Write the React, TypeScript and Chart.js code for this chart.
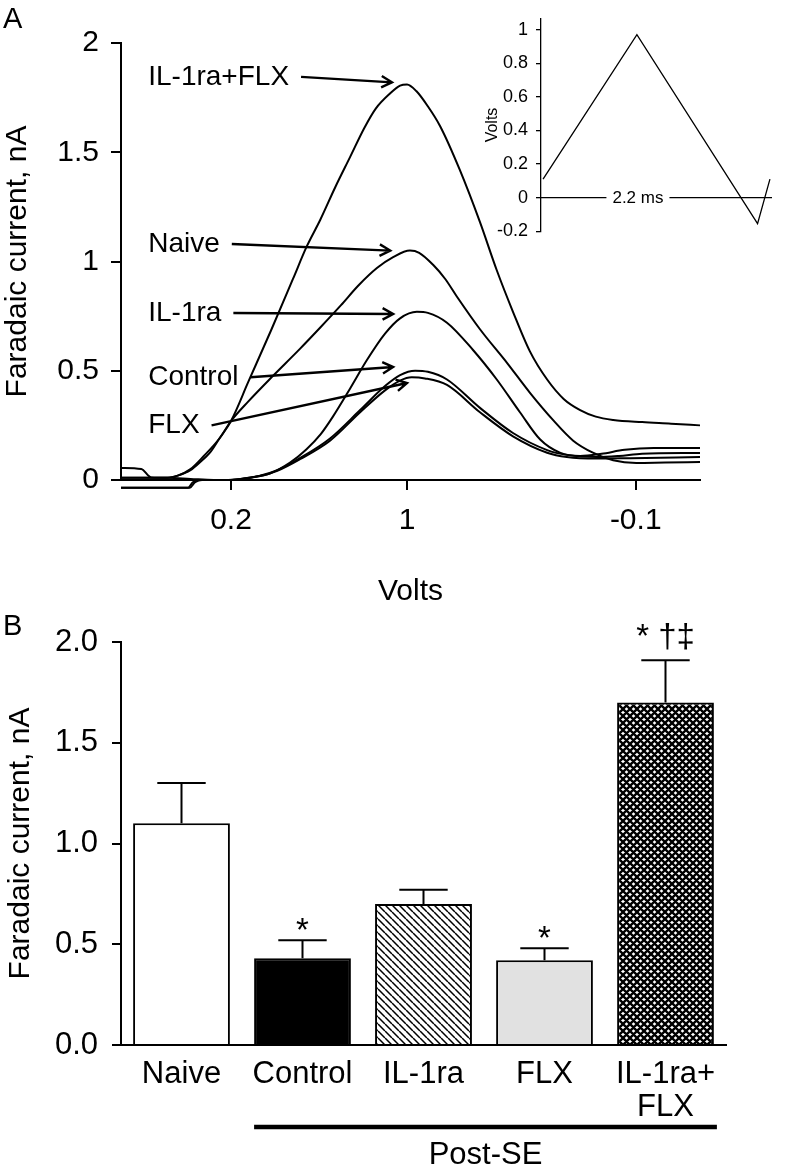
import React, { useEffect, useRef } from 'react';
import { Chart, registerables } from 'chart.js';

Chart.register(...registerables);

const FONT = '"Liberation Sans", Arial, Helvetica, sans-serif';

// ---------- Panel A: cyclic voltammogram traces [sample index 0-100, current nA]
const traceIL1raFLX: [number, number][] = [
  [0, 0.055], [3.5, 0.05], [5.2, 0.012], [8, 0.01], [9.8, 0.02], [12, 0.045], [13.6, 0.08],
  [15.5, 0.13], [17, 0.19], [19, 0.27], [22, 0.45], [26, 0.69], [29.7, 0.92], [32.1, 1.07],
  [34.4, 1.19], [37, 1.34], [39.6, 1.48], [42, 1.61], [44, 1.7], [46.5, 1.77], [48.2, 1.805],
  [49.4, 1.81], [51, 1.78], [53, 1.71], [55.1, 1.62], [58.5, 1.42], [62, 1.18], [64.9, 0.96],
  [67.7, 0.77], [70.6, 0.59], [73.6, 0.46], [76.5, 0.37], [79.3, 0.32], [82, 0.29], [85, 0.275],
  [90, 0.265], [95, 0.258], [100, 0.25],
];
const traceNaive: [number, number][] = [
  [0, 0.01], [5, 0.01], [8, 0.01], [9.8, 0.02], [12, 0.05], [14.3, 0.11], [17, 0.19], [19, 0.27],
  [22, 0.36], [26, 0.47], [30.9, 0.6], [34.5, 0.7], [38, 0.8], [41, 0.89], [44.2, 0.97], [47, 1.02],
  [49.9, 1.05], [51.5, 1.04], [53.9, 0.985], [56, 0.92], [58, 0.84], [62, 0.69], [66.7, 0.535],
  [70.6, 0.4], [74.6, 0.275], [78.1, 0.18], [81.5, 0.125], [85, 0.09], [89, 0.078], [94, 0.08],
  [100, 0.082],
];
const traceIL1ra: [number, number][] = [
  [0, 0.01], [8, 0.01], [12, 0.005], [16, 0.0], [19, 0.0], [22, 0.01], [25.7, 0.03], [29.2, 0.08],
  [32, 0.14], [34.5, 0.21], [36.6, 0.29], [39.6, 0.42], [42.5, 0.55], [45.6, 0.67], [48.2, 0.74],
  [51.1, 0.77], [53, 0.765], [56.3, 0.72], [60.8, 0.595], [64.9, 0.46], [68.9, 0.31], [72.4, 0.185],
  [75.8, 0.125], [79.3, 0.11], [83, 0.12], [87, 0.138], [92, 0.146], [100, 0.146],
];
const traceControl: [number, number][] = [
  [0, -0.035], [6, -0.035], [11.6, -0.035], [12.4, -0.01], [13.6, 0.0], [18, 0.0], [20.6, 0.005],
  [24, 0.02], [27, 0.045], [30.9, 0.1], [36.1, 0.19], [41.3, 0.32], [45.6, 0.43], [48.2, 0.48],
  [50.8, 0.5], [53, 0.495], [56.3, 0.46], [62, 0.33], [67.7, 0.215], [73.6, 0.137], [77, 0.115],
  [82.2, 0.105], [86, 0.11], [90, 0.12], [100, 0.124],
];
const traceFLX: [number, number][] = [
  [0, -0.035], [6, -0.035], [11.9, -0.035], [12.8, -0.01], [14, 0.0], [18, 0.0], [20.6, 0.004],
  [24, 0.018], [27, 0.042], [30.9, 0.095], [36.1, 0.18], [41.3, 0.31], [45.6, 0.41], [48.2, 0.455],
  [50.2, 0.47], [52.5, 0.465], [56.3, 0.435], [62, 0.31], [67.7, 0.2], [73.6, 0.125], [77, 0.105],
  [82.2, 0.098], [88, 0.1], [100, 0.105],
];
const traces = [traceIL1raFLX, traceNaive, traceIL1ra, traceControl, traceFLX];
const traceNames = ['IL-1ra+FLX', 'Naive', 'IL-1ra', 'Control', 'FLX'];
const traceLabelX = 4.7;
const traceLabelY = [1.845, 1.08, 0.764, 0.47, 0.25];
const arrowTipX = [46.8, 46.5, 47.0, 47.0, 49.4];
const arrowTipY = [1.82, 1.05, 0.76, 0.517, 0.444];
const voltTickPos = [19.0, 49.4, 88.9];
const voltTickLabels = ['0.2', '1', '-0.1'];
const currentTicksA = [0, 0.5, 1, 1.5, 2];

// ---------- Inset: applied waveform (time ms, volts)
const waveTime = [0, 0.91, 2.08, 2.2];
const waveVolts = [0.11, 0.97, -0.155, 0.11];
const insetTicks = [-0.2, 0, 0.2, 0.4, 0.6, 0.8, 1];
const insetTimeRange = [-0.02, 2.22];
const insetLabel = '2.2 ms';
const insetLabelTime = 0.92;

// ---------- Panel B: peak currents
const groups: (string | string[])[] = ['Naive', 'Control', 'IL-1ra', 'FLX', ['IL-1ra+', 'FLX']];
const means = [1.1, 0.43, 0.7, 0.42, 1.7];
const sems = [0.2, 0.09, 0.07, 0.06, 0.21];
const marks = ['', '*', '', '*', '* †‡'];
const currentTicksB = [0, 0.5, 1, 1.5, 2];

function makePattern(kind: 'diag' | 'cross'): CanvasPattern | string {
  const s = 7;
  const c = document.createElement('canvas');
  c.width = s;
  c.height = s;
  const g = c.getContext('2d');
  if (!g) return '#888';
  g.fillStyle = '#fff';
  g.fillRect(0, 0, s, s);
  g.strokeStyle = '#000';
  g.lineWidth = kind === 'diag' ? 1.5 : 2.4;
  g.beginPath();
  for (const k of [-s, 0, s]) {
    g.moveTo(k, 0);
    g.lineTo(k + s, s);
    if (kind === 'cross') {
      g.moveTo(k + s, 0);
      g.lineTo(k, s);
    }
  }
  g.stroke();
  const p = g.createPattern(c, 'repeat');
  return p || '#888';
}

function drawArrow(ctx: CanvasRenderingContext2D, x1: number, y1: number, x2: number, y2: number) {
  const ang = Math.atan2(y2 - y1, x2 - x1);
  const len = 12;
  const spread = 0.5;
  ctx.beginPath();
  ctx.moveTo(x1, y1);
  ctx.lineTo(x2, y2);
  ctx.moveTo(x2 - len * Math.cos(ang - spread), y2 - len * Math.sin(ang - spread));
  ctx.lineTo(x2, y2);
  ctx.lineTo(x2 - len * Math.cos(ang + spread), y2 - len * Math.sin(ang + spread));
  ctx.stroke();
}

const plainNumber = (v: any) => `${Math.round(Number(v) * 100) / 100}`;

export default function App() {
  const refA = useRef<HTMLCanvasElement>(null);
  const refInset = useRef<HTMLCanvasElement>(null);
  const refB = useRef<HTMLCanvasElement>(null);

  useEffect(() => {
    const charts: Chart[] = [];

    // ---------------- Panel A
    if (refA.current) {
      const annotA = {
        id: 'annotA',
        afterDatasetsDraw(chart: any) {
          const { ctx, scales } = chart;
          const xs = scales.x;
          const ys = scales.y;
          ctx.save();
          ctx.fillStyle = '#000';
          ctx.strokeStyle = '#000';
          ctx.lineWidth = 2.4;
          ctx.font = `28px ${FONT}`;
          ctx.textBaseline = 'middle';
          ctx.textAlign = 'left';
          traceNames.forEach((name, i) => {
            const tx = xs.getPixelForValue(traceLabelX);
            const ty = ys.getPixelForValue(traceLabelY[i]);
            ctx.fillText(name, tx, ty);
            const w = ctx.measureText(name).width;
            drawArrow(ctx, tx + w + 12, ty, xs.getPixelForValue(arrowTipX[i]), ys.getPixelForValue(arrowTipY[i]));
          });
          ctx.textBaseline = 'alphabetic';
          ctx.font = `29px ${FONT}`;
          ctx.fillText('A', 3, 28);
          ctx.restore();
        },
      };
      charts.push(
        new Chart(refA.current, {
          type: 'line',
          data: {
            datasets: traces.map((t, i) => ({
              label: traceNames[i],
              data: t.map(([x, y]) => ({ x, y })),
              borderColor: '#000',
              borderWidth: 2,
              pointRadius: 0,
              fill: false,
              cubicInterpolationMode: 'monotone' as const,
              clip: false as any,
            })),
          },
          options: {
            responsive: false,
            animation: false,
            events: [],
            layout: { padding: { left: 0, right: 91, top: 43, bottom: 0 } },
            plugins: { legend: { display: false }, tooltip: { enabled: false } },
            scales: {
              x: {
                type: 'linear',
                min: 0,
                max: 100,
                afterBuildTicks: (s: any) => {
                  s.ticks = voltTickPos.map((v) => ({ value: v }));
                },
                afterFit: (s: any) => {
                  s.height = 140;
                },
                ticks: {
                  callback: (_v: any, i: number) => voltTickLabels[i],
                  font: { family: FONT, size: 30 },
                  color: '#000',
                  padding: 13,
                  maxRotation: 0,
                  autoSkip: false,
                },
                grid: { display: true, drawOnChartArea: false, drawTicks: true, tickLength: 10, color: '#000', lineWidth: 2 },
                border: { display: true, color: '#000', width: 2 },
                title: { display: true, text: 'Volts', color: '#000', font: { family: FONT, size: 30 }, padding: { top: 0, bottom: 10 } },
              },
              y: {
                min: 0,
                max: 2,
                afterBuildTicks: (s: any) => {
                  s.ticks = currentTicksA.map((v) => ({ value: v }));
                },
                afterFit: (s: any) => {
                  s.width = 121;
                },
                ticks: { callback: plainNumber, font: { family: FONT, size: 30 }, color: '#000', padding: 12 },
                grid: { display: true, drawOnChartArea: false, drawTicks: true, tickLength: 10, color: '#000', lineWidth: 2 },
                border: { display: true, color: '#000', width: 2 },
                title: { display: true, text: 'Faradaic current, nA', color: '#000', font: { family: FONT, size: 30 }, padding: { top: 0, bottom: 0 } },
              },
            },
          },
          plugins: [annotA],
        } as any)
      );
    }

    // ---------------- Inset
    if (refInset.current) {
      const insetText = {
        id: 'insetText',
        afterDatasetsDraw(chart: any) {
          const { ctx, scales } = chart;
          const cx = scales.x.getPixelForValue(insetLabelTime);
          const cy = scales.y.getPixelForValue(0);
          ctx.save();
          ctx.font = `17px ${FONT}`;
          const w = ctx.measureText(insetLabel).width;
          ctx.fillStyle = '#fff';
          ctx.fillRect(cx - w / 2 - 6, cy - 8, w + 12, 16);
          ctx.fillStyle = '#000';
          ctx.textAlign = 'center';
          ctx.textBaseline = 'middle';
          ctx.fillText(insetLabel, cx, cy + 1);
          ctx.restore();
        },
      };
      charts.push(
        new Chart(refInset.current, {
          type: 'line',
          data: {
            datasets: [
              {
                data: waveTime.map((t, i) => ({ x: t, y: waveVolts[i] })),
                borderColor: '#000',
                borderWidth: 1.3,
                pointRadius: 0,
                tension: 0,
              },
              {
                data: insetTimeRange.map((t) => ({ x: t, y: 0 })),
                borderColor: '#000',
                borderWidth: 1.3,
                pointRadius: 0,
                tension: 0,
              },
            ],
          },
          options: {
            responsive: false,
            animation: false,
            events: [],
            layout: { padding: { left: 0, right: 19, top: 9, bottom: 15 } },
            plugins: { legend: { display: false }, tooltip: { enabled: false } },
            scales: {
              x: { type: 'linear', display: false, min: insetTimeRange[0], max: insetTimeRange[1] },
              y: {
                min: -0.2,
                max: 1.064,
                afterBuildTicks: (s: any) => {
                  s.ticks = insetTicks.map((v) => ({ value: v }));
                },
                afterFit: (s: any) => {
                  s.width = 71;
                },
                ticks: { callback: plainNumber, font: { family: FONT, size: 18 }, color: '#000', padding: 8 },
                grid: { display: true, drawOnChartArea: false, drawTicks: true, tickLength: 5, color: '#000', lineWidth: 1.3 },
                border: { display: true, color: '#000', width: 1.3 },
                title: { display: true, text: 'Volts', color: '#000', font: { family: FONT, size: 16 }, padding: { top: 13, bottom: 0 } },
              },
            },
          },
          plugins: [insetText],
        } as any)
      );
    }

    // ---------------- Panel B
    if (refB.current) {
      const fills = ['#ffffff', '#000000', makePattern('diag'), '#e1e1e1', makePattern('cross')];
      const errPlugin = {
        id: 'errB',
        afterDatasetsDraw(chart: any) {
          const { ctx, scales, chartArea } = chart;
          const ys = scales.y;
          const meta = chart.getDatasetMeta(0);
          ctx.save();
          ctx.strokeStyle = '#000';
          ctx.fillStyle = '#000';
          ctx.lineWidth = 2;
          meta.data.forEach((bar: any, i: number) => {
            const x = bar.x;
            const yTop = ys.getPixelForValue(means[i]);
            const yErr = ys.getPixelForValue(means[i] + sems[i]);
            const half = bar.width / 4;
            ctx.beginPath();
            ctx.moveTo(x, yTop);
            ctx.lineTo(x, yErr);
            ctx.moveTo(x - half, yErr);
            ctx.lineTo(x + half, yErr);
            ctx.stroke();
            if (marks[i]) {
              ctx.font = `33px ${FONT}`;
              ctx.textAlign = 'center';
              ctx.textBaseline = 'alphabetic';
              const m = ctx.measureText(marks[i]);
              ctx.fillText(marks[i], x, yErr - 10 - m.actualBoundingBoxDescent);
            }
          });
          // Post-SE bracket
          const b1 = meta.data[1];
          const b4 = meta.data[4];
          const lx1 = b1.x - b1.width / 2;
          const lx2 = b4.x + b4.width / 2 + 3;
          const ly = chartArea.bottom + 82;
          ctx.lineWidth = 4.5;
          ctx.beginPath();
          ctx.moveTo(lx1, ly);
          ctx.lineTo(lx2, ly);
          ctx.stroke();
          ctx.font = `31px ${FONT}`;
          ctx.textAlign = 'center';
          ctx.textBaseline = 'middle';
          ctx.fillText('Post-SE', (lx1 + lx2) / 2, chartArea.bottom + 110);
          ctx.textAlign = 'left';
          ctx.textBaseline = 'alphabetic';
          ctx.font = `29px ${FONT}`;
          ctx.fillText('B', 3, 45);
          ctx.restore();
        },
      };
      charts.push(
        new Chart(refB.current, {
          type: 'bar',
          data: {
            labels: groups,
            datasets: [
              {
                data: means,
                backgroundColor: fills,
                borderColor: '#000',
                borderWidth: 2,
                barPercentage: 0.8,
                categoryPercentage: 1,
              },
            ],
          },
          options: {
            responsive: false,
            animation: false,
            events: [],
            layout: { padding: { left: 0, right: 65, top: 52, bottom: 0 } },
            plugins: { legend: { display: false }, tooltip: { enabled: false } },
            scales: {
              x: {
                afterFit: (s: any) => {
                  s.height = 126;
                },
                ticks: { font: { family: FONT, size: 31, lineHeight: 1.07 }, color: '#000', padding: 5, maxRotation: 0, autoSkip: false },
                grid: { display: false },
                border: { display: true, color: '#000', width: 2 },
              },
              y: {
                min: 0,
                max: 2,
                afterBuildTicks: (s: any) => {
                  s.ticks = currentTicksB.map((v) => ({ value: v }));
                },
                afterFit: (s: any) => {
                  s.width = 121;
                },
                ticks: { callback: (v: any) => Number(v).toFixed(1), font: { family: FONT, size: 31 }, color: '#000', padding: 14 },
                grid: { display: true, drawOnChartArea: false, drawTicks: true, tickLength: 9, color: '#000', lineWidth: 2 },
                border: { display: true, color: '#000', width: 2 },
                title: { display: true, text: 'Faradaic current, nA', color: '#000', font: { family: FONT, size: 30 }, padding: { top: 3, bottom: 0 } },
              },
            },
          },
          plugins: [errPlugin],
        } as any)
      );
    }

    return () => {
      charts.forEach((c) => c.destroy());
    };
  }, []);

  return (
    <div style={{ position: 'absolute', left: 0, top: 0, width: 791, height: 1171, background: '#fff', overflow: 'hidden' }}>
      <canvas ref={refA} width={791} height={620} style={{ position: 'absolute', left: 0, top: 0, width: 791, height: 620 }} />
      <canvas ref={refB} width={791} height={581} style={{ position: 'absolute', left: 0, top: 590, width: 791, height: 581 }} />
      <canvas ref={refInset} width={321} height={250} style={{ position: 'absolute', left: 470, top: 0, width: 321, height: 250 }} />
    </div>
  );
}
